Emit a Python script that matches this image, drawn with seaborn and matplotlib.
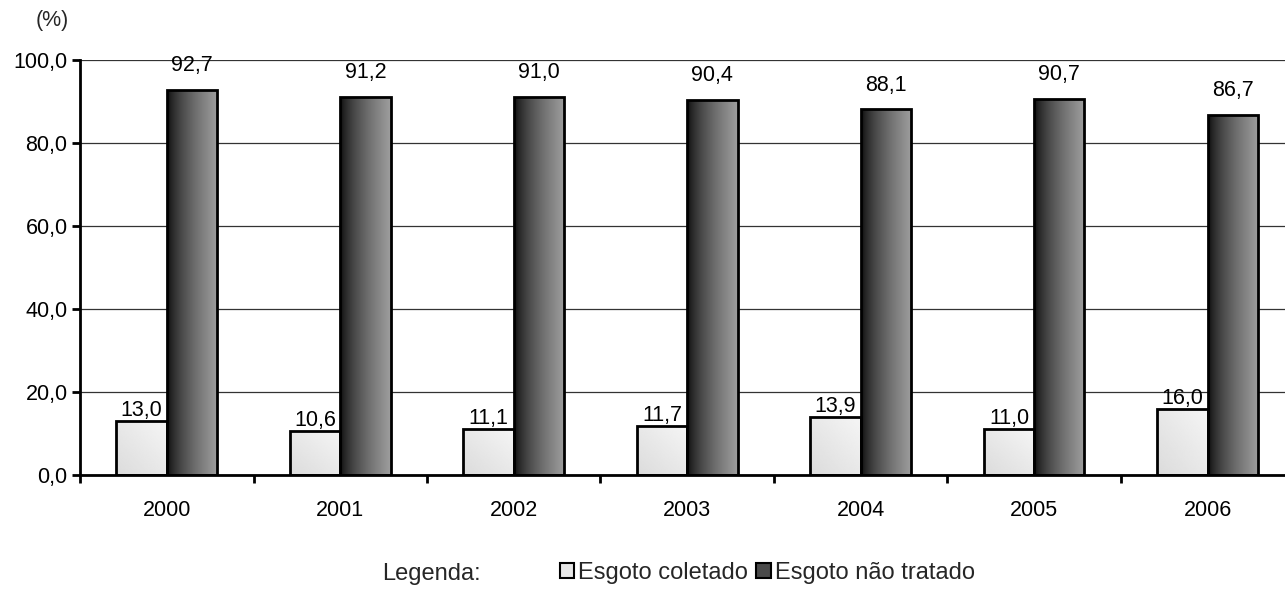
import numpy as np
import pandas as pd
import matplotlib
matplotlib.use("Agg")
import matplotlib.pyplot as plt
import seaborn as sns
from matplotlib.patches import Patch
from matplotlib.ticker import FixedLocator, FuncFormatter

# Data
anos = ["2000", "2001", "2002", "2003", "2004", "2005", "2006"]
coletado = [13.0, 10.6, 11.1, 11.7, 13.9, 11.0, 16.0]
nao_tratado = [92.7, 91.2, 91.0, 90.4, 88.1, 90.7, 86.7]
series = ["Esgoto coletado", "Esgoto não tratado"]
yticks = [0, 20, 40, 60, 80, 100]

df = pd.DataFrame({
    "ano": anos * 2,
    "serie": [series[0]] * len(anos) + [series[1]] * len(anos),
    "valor": coletado + nao_tratado,
})

FS = 15.5
FS_LEG = 17

sns.set_theme(style="white")
plt.rcParams["font.family"] = ["Liberation Sans", "DejaVu Sans"]

fig = plt.figure(figsize=(12.85, 5.89), dpi=100)
ax = fig.add_axes([0.0623, 0.1935, 0.945, 0.7046])

sns.barplot(data=df, x="ano", y="valor", hue="serie", hue_order=series,
            order=anos, width=0.58, ax=ax, legend=False,
            edgecolor="black", linewidth=2.0, saturation=1.0)

# gradient fills clipped to each bar
dark_grad = np.linspace(0, 1, 256)
dark_img = (0.02 + 0.60 * dark_grad ** 0.65)[None, :]
yy, xx = np.mgrid[0:64, 0:64] / 63.0
light_img = 0.86 + 0.10 * (xx * 0.5 + (1 - yy) * 0.5)

for ci, cont in enumerate(ax.containers):
    for bar in cont:
        x0, y0 = bar.get_x(), bar.get_y()
        w, h = bar.get_width(), bar.get_height()
        bar.set_facecolor("none")
        bar.set_zorder(3)
        img = dark_img if ci == 1 else light_img
        im = ax.imshow(img, cmap="gray", vmin=0, vmax=1, aspect="auto",
                       extent=(x0, x0 + w, y0, y0 + h), origin="upper",
                       interpolation="bilinear", zorder=2.5)
        im.set_clip_path(bar)

ax.set_xlim(-0.5, len(anos) - 0.5)
ax.set_ylim(0, 100)

# value labels
fmt = lambda v: f"{v:.1f}".replace(".", ",")
ax.bar_label(ax.containers[0], labels=[fmt(v) for v in coletado],
             padding=0, fontsize=FS, color="black", zorder=4)
ax.bar_label(ax.containers[1], labels=[fmt(v) for v in nao_tratado],
             padding=10, fontsize=FS, color="black", zorder=4)

# axes styling
ax.yaxis.set_major_locator(FixedLocator(yticks))
ax.yaxis.set_major_formatter(FuncFormatter(lambda v, p: fmt(v)))
ax.grid(axis="y", color="#333333", linewidth=0.9)
ax.set_axisbelow(True)
for s in ["top", "right"]:
    ax.spines[s].set_visible(False)
for s in ["left", "bottom"]:
    ax.spines[s].set_color("black")
    ax.spines[s].set_linewidth(2.0)
    ax.spines[s].set_zorder(5)

ax.tick_params(axis="y", which="major", left=True, length=6, width=2,
               color="black", labelsize=FS, pad=3, labelcolor="black")
ax.tick_params(axis="x", which="major", bottom=False, labelsize=FS,
               pad=12, labelcolor="black")
ax.xaxis.set_minor_locator(FixedLocator(np.arange(-0.5, len(anos), 1.0)))
ax.tick_params(axis="x", which="minor", bottom=True, length=6, width=2,
               color="black", direction="out")
ax.set_xlabel("")
ax.set_ylabel("")

fig.text(0.0405, 0.965, "(%)", fontsize=FS, ha="center", va="center")

# legend
handles = [Patch(facecolor="#e6e6e6", edgecolor="black", linewidth=1.5),
           Patch(facecolor="#4a4a4a", edgecolor="black", linewidth=1.5)]
fig.text(0.297, 0.025, "Legenda:", fontsize=FS_LEG, ha="left", va="center")
fig.legend(handles=handles, labels=series, loc="center left",
           bbox_to_anchor=(0.436, 0.027), ncol=2, frameon=False,
           fontsize=FS_LEG, handlelength=0.6, handleheight=0.6,
           handletextpad=0.17, columnspacing=0.34, borderpad=0,
           borderaxespad=0)

fig.savefig("out.png", dpi=100)
